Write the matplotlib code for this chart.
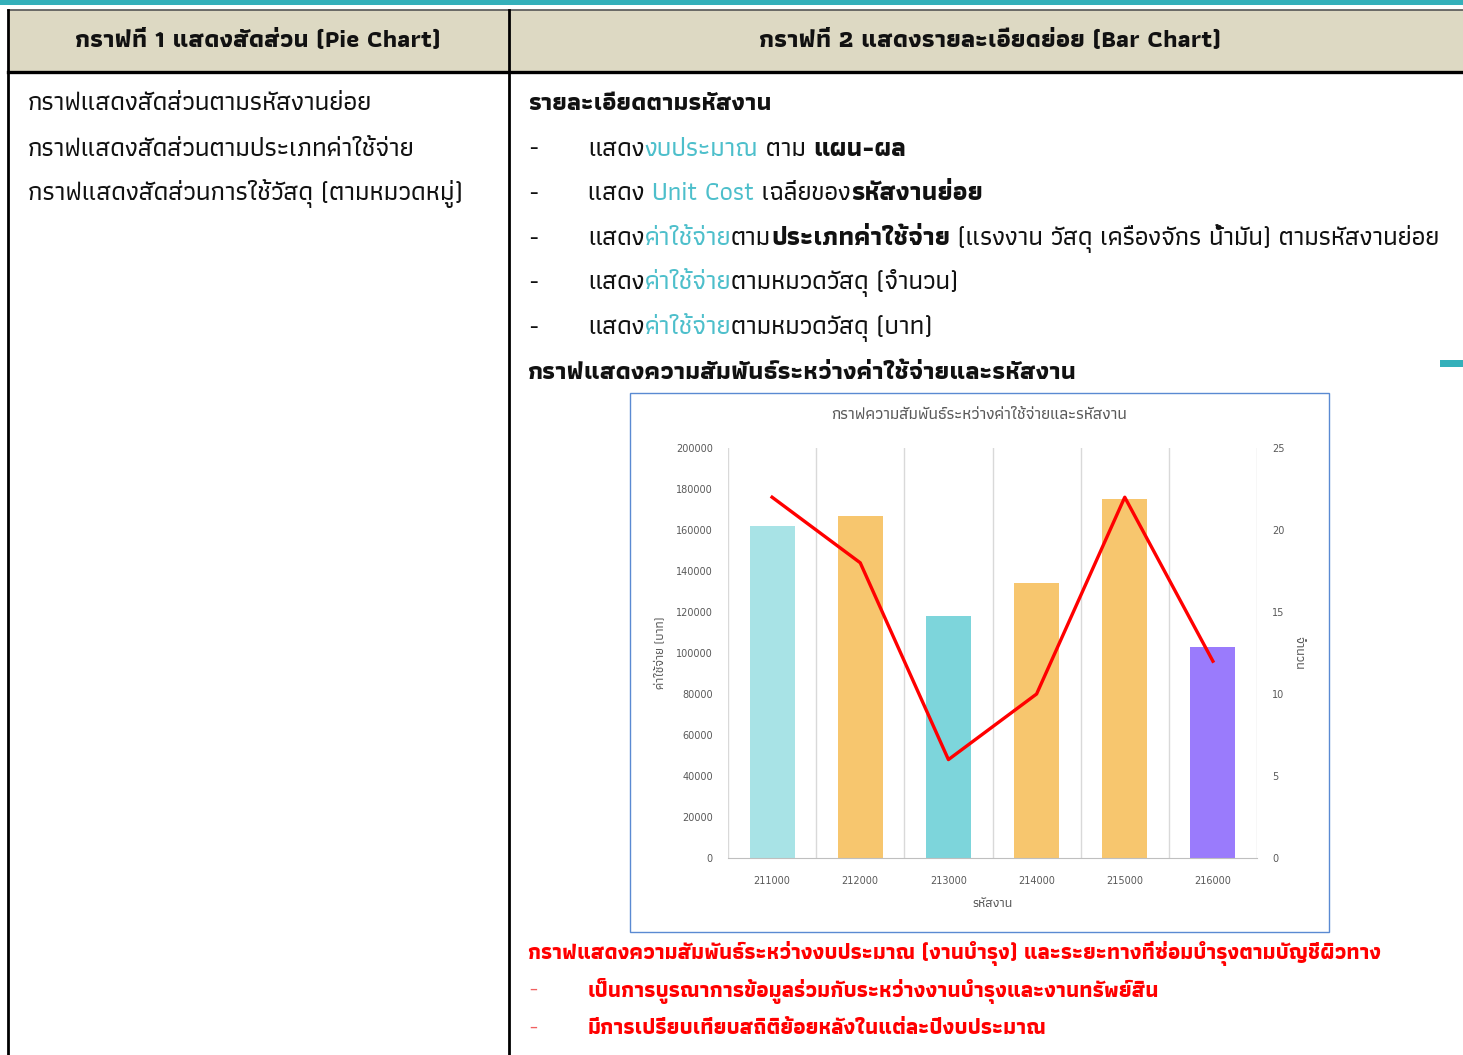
import numpy as np
import matplotlib
matplotlib.use("Agg")
import matplotlib.pyplot as plt
from matplotlib import font_manager
from matplotlib import patheffects
from matplotlib.patches import Rectangle
from matplotlib.offsetbox import TextArea, HPacker, AnnotationBbox

# chart data
codes = ["211000", "212000", "213000", "214000", "215000", "216000"]
costs = [162000, 167000, 118000, 134000, 175000, 103000]
counts = [22, 18, 6, 10, 22, 12]
bar_colors = ["#A8E3E6", "#F7C66E", "#7DD5DB", "#F7C66E", "#F7C66E", "#9A7BFC"]

chart_title = "กราฟความสัมพันธ์ระหว่างค่าใช้จ่ายและรหัสงาน"
x_title = "รหัสงาน"
y_title = "ค่าใช้จ่าย (บาท)"
y2_title = "จำนวน"

header_left = "กราฟที่ 1 แสดงสัดส่วน (Pie Chart)"
header_right = "กราฟที่ 2 แสดงรายละเอียดย่อย (Bar Chart)"
left_lines = [
    "กราฟแสดงสัดส่วนตามรหัสงานย่อย",
    "กราฟแสดงสัดส่วนตามประเภทค่าใช้จ่าย",
    "กราฟแสดงสัดส่วนการใช้วัสดุ (ตามหมวดหมู่)",
]
right_heading = "รายละเอียดตามรหัสงาน"
# each bullet: list of (text, style) where style is n=normal, c=cyan, b=bold
right_bullets = [
    [("แสดง", "n"), ("งบประมาณ", "c"), (" ตาม ", "n"), ("แผน-ผล", "b")],
    [("แสดง ", "n"), ("Unit Cost", "c"), (" เฉลี่ยของ", "n"), ("รหัสงานย่อย", "b")],
    [("แสดง", "n"), ("ค่าใช้จ่าย", "c"), ("ตาม", "n"), ("ประเภทค่าใช้จ่าย", "b"),
     (" (แรงงาน วัสดุ เครื่องจักร น้ำมัน) ตามรหัสงานย่อย", "n")],
    [("แสดง", "n"), ("ค่าใช้จ่าย", "c"), ("ตามหมวดวัสดุ (จำนวน)", "n")],
    [("แสดง", "n"), ("ค่าใช้จ่าย", "c"), ("ตามหมวดวัสดุ (บาท)", "n")],
]
chart_heading = "กราฟแสดงความสัมพันธ์ระหว่างค่าใช้จ่ายและรหัสงาน"
red_heading = "กราฟแสดงความสัมพันธ์ระหว่างงบประมาณ (งานบำรุง) และระยะทางที่ซ่อมบำรุงตามบัญชีผิวทาง"
red_bullets = [
    "เป็นการบูรณาการข้อมูลร่วมกับระหว่างงานบำรุงและงานทรัพย์สิน",
    "มีการเปรียบเทียบสถิติย้อยหลังในแต่ละปีงบประมาณ",
]


def thai_family():
    # installed family with Thai glyphs, preferring one that ships a bold face
    from fontTools.ttLib import TTFont
    found = {}
    for f in font_manager.fontManager.ttflist:
        try:
            if 0x0E01 in TTFont(f.fname, fontNumber=0, lazy=True).getBestCmap():
                w = f.weight if isinstance(f.weight, int) else 400
                found.setdefault(f.name, set()).add(w)
        except Exception:
            continue
    if not found:
        return "DejaVu Sans", {400}
    for name in sorted(found):
        if max(found[name]) >= 600:
            return name, found[name]
    name = sorted(found)[0]
    return name, found[name]


THAI, WEIGHTS = thai_family()
HAS_BOLD = max(WEIGHTS) >= 600
NORMAL = 500 if 500 in WEIGHTS else "normal"
plt.rcParams["font.family"] = [THAI, "DejaVu Sans"]

W, H = 1463, 1055
fig = plt.figure(figsize=(W / 100, H / 100), dpi=100)

# background axes in pixel coordinates for the table
bg = fig.add_axes([0, 0, 1, 1])
bg.set_xlim(0, W)
bg.set_ylim(H, 0)
bg.axis("off")

TEAL = "#34B0BA"
CYAN = "#4DBFCB"
RED = "#FF0000"
INK = "#111111"
GREY = "#595959"


def style(color, bold=False):
    d = dict(color=color, weight=NORMAL)
    if bold:
        d["weight"] = "bold"
        if not HAS_BOLD:
            d["path_effects"] = [patheffects.withStroke(linewidth=0.9, foreground=color)]
    return d


bg.add_patch(Rectangle((0, 0), W, 5, color=TEAL, lw=0))
bg.add_patch(Rectangle((8, 10), W - 8, 62, facecolor="#DDD9C3", lw=0))
bg.plot([8, W], [10, 10], color="#555555", lw=1.2)
bg.plot([8, W], [72, 72], color="black", lw=2.4)
bg.plot([8, 8], [10, H], color="black", lw=2)
bg.plot([509, 509], [10, H], color="black", lw=2)
bg.add_patch(Rectangle((1440, 360), 23, 7, color=TEAL, lw=0))

bg.text(258, 41, header_left, ha="center", va="center", fontsize=18, **style(INK, True))
bg.text(990, 41, header_right, ha="center", va="center", fontsize=18, **style(INK, True))

for i, s in enumerate(left_lines):
    bg.text(28, 104 + 45 * i, s, va="center", fontsize=18.8, **style(INK))


def rich_line(x, y, parts, size):
    styles = {"n": style(INK), "c": style(CYAN), "b": style(INK, True)}
    boxes = [TextArea(t, textprops=dict(fontsize=size, **styles[k])) for t, k in parts]
    pack = HPacker(children=boxes, align="baseline", pad=0, sep=0)
    ab = AnnotationBbox(pack, (x, y), xycoords="data", box_alignment=(0, 0.5),
                        frameon=False, pad=0)
    bg.add_artist(ab)


bg.text(528, 104, right_heading, va="center", fontsize=17.9, **style(INK, True))
for i, parts in enumerate(right_bullets):
    y = 149 + 44.8 * i
    bg.text(528, y, "-", va="center", fontsize=17.5, **style(INK))
    rich_line(588, y, parts, 18.65)
bg.text(528, 373, chart_heading, va="center", fontsize=18, **style(INK, True))

bg.text(528, 953, red_heading, va="center", fontsize=15.55, **style(RED, True))
for i, s in enumerate(red_bullets):
    y = 991 + 38 * i
    bg.text(528, y, "-", va="center", fontsize=17.5, color="#F06060")
    bg.text(588, y, s, va="center", fontsize=15.7, **style(RED, True))

# embedded chart frame
bg.add_patch(Rectangle((630, 393), 699, 539, fill=False, edgecolor="#5A8AD2", lw=1))
bg.text(979, 415, chart_title, ha="center", va="center", fontsize=12, **style(GREY))

ax = fig.add_axes([728 / W, 1 - 858 / H, 529 / W, 410 / H])
x = np.arange(len(codes))
ax.bar(x, costs, width=0.51, color=bar_colors, zorder=2)
ax.set_xlim(-0.5, len(codes) - 0.5)
ax.set_ylim(0, 200000)
ax.set_yticks(np.arange(0, 200001, 20000))
ax.set_xticks(x, codes)
ax.set_xticks(np.arange(-0.5, len(codes), 1), minor=True)
ax.grid(which="minor", axis="x", color="#D9D9D9", lw=1, zorder=0)
ax.tick_params(which="both", length=0, labelsize=7.5, colors=GREY)
ax.tick_params(axis="x", pad=13)
ax.tick_params(axis="y", pad=11)
for side in ["left", "right", "top"]:
    ax.spines[side].set_visible(False)
ax.spines["bottom"].set_color("#BFBFBF")
ax.set_xlabel(x_title, fontsize=9.5, color=GREY, weight=NORMAL, labelpad=9)
ax.set_ylabel(y_title, fontsize=9, color=GREY, weight=NORMAL, labelpad=7)

ax2 = ax.twinx()
ax2.plot(x, counts, color=RED, lw=2.4, zorder=3)
ax2.set_ylim(0, 25)
ax2.set_yticks(np.arange(0, 26, 5))
ax2.tick_params(length=0, labelsize=7.5, colors=GREY, pad=11)
for side in ["left", "right", "top", "bottom"]:
    ax2.spines[side].set_visible(False)
ax2.set_ylabel(y2_title, fontsize=9.5, color=GREY, weight=NORMAL, rotation=270, labelpad=13)

for lab in ax.get_xticklabels() + ax.get_yticklabels() + ax2.get_yticklabels():
    lab.set_family(["DejaVu Sans"])
    lab.set_fontsize(7)

fig.savefig("out.png", dpi=100)
